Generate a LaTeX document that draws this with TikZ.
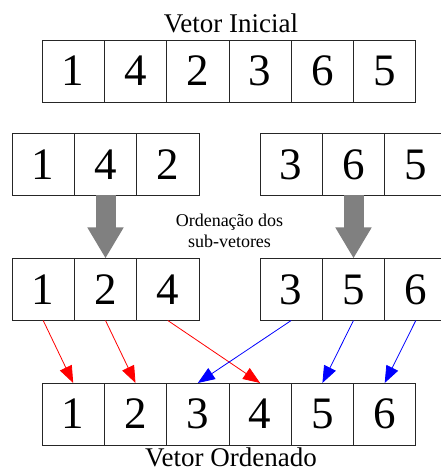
\documentclass[tikz,border=0pt]{standalone}
\usepackage{fontspec}
\setmainfont{Liberation Serif}
\usetikzlibrary{positioning, arrows.meta}

\begin{document}
\begin{tikzpicture}[x=1pt,y=1pt]
  \tikzset{cell/.style={draw=black!85,line width=0.9pt,minimum width=62.3pt,minimum height=62pt,inner sep=0,outer sep=0,font=\fontsize{45}{45}\selectfont}}
  \tikzset{vtitle/.style={inner sep=0,font=\fontsize{27}{27}\selectfont}}
  \tikzset{sortarrow/.style={draw=gray,line width=20pt,-{Triangle[length=31pt,width=34pt]}}}
  \tikzset{merge/.style={line width=0.8pt,-{Triangle[length=17pt,width=13pt]}}}
  \useasboundingbox (0,0) rectangle (440,471);
  \node[cell](v1) at (73.2,400) {1};
  \node[cell,right=0pt of v1](v2) {4};
  \node[cell,right=0pt of v2](v3) {2};
  \node[cell,right=0pt of v3](v4) {3};
  \node[cell,right=0pt of v4](v5) {6};
  \node[cell,right=0pt of v5](v6) {5};
  \node[vtitle,above=6.5pt of v3.north east,xshift=2pt](ini) {Vetor Inicial};
  \node[cell](e1) at (43.2,306.5) {1};
  \node[cell,right=0pt of e1](e2) {4};
  \node[cell,right=0pt of e2](e3) {2};
  \node[cell](d1) at (291.2,306.5) {3};
  \node[cell,right=0pt of d1](d2) {6};
  \node[cell,right=0pt of d2](d3) {5};
  \node[cell](es1) at (43.2,181.5) {1};
  \node[cell,right=0pt of es1](es2) {2};
  \node[cell,right=0pt of es2](es3) {4};
  \node[cell](ds1) at (291.2,181.5) {3};
  \node[cell,right=0pt of ds1](ds2) {5};
  \node[cell,right=0pt of ds2](ds3) {6};
  \draw[sortarrow] (e2.south) -- (es2.north);
  \draw[sortarrow] (d2.south) -- (ds2.north);
  \node[align=center,inner sep=0,font=\fontsize{18}{21}\selectfont](txt) at (229.5,240) {Ordenação dos\\sub-vetores};
  \node[cell](o1) at (73.2,57) {1};
  \node[cell,right=0pt of o1](o2) {2};
  \node[cell,right=0pt of o2](o3) {3};
  \node[cell,right=0pt of o3](o4) {4};
  \node[cell,right=0pt of o4](o5) {5};
  \node[cell,right=0pt of o5](o6) {6};
  \node[vtitle,below=2.5pt of o3.south east,xshift=2pt](ord) {Vetor Ordenado};
  \draw[merge,red] (es1.south) -- (o1.north);
  \draw[merge,red] (es2.south) -- (o2.north);
  \draw[merge,red] (es3.south) -- (o4.north);
  \draw[merge,blue] (ds1.south) -- (o3.north);
  \draw[merge,blue] (ds2.south) -- (o5.north);
  \draw[merge,blue] (ds3.south) -- (o6.north);
\end{tikzpicture}
\end{document}
